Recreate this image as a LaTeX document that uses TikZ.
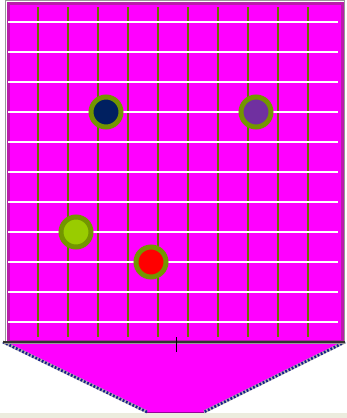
\documentclass[tikz,border=0pt]{standalone}
\definecolor{mag}{RGB}{255,0,255}
\definecolor{rimc}{RGB}{185,30,170}
\definecolor{vline}{RGB}{105,115,0}
\definecolor{ring}{RGB}{115,150,0}
\definecolor{navyc}{RGB}{0,32,96}
\definecolor{purp}{RGB}{112,48,160}
\definecolor{lime}{RGB}{153,204,0}
\definecolor{band}{RGB}{236,236,222}
\definecolor{dotc}{RGB}{20,30,140}
\begin{document}
\begin{tikzpicture}[x=1pt,y=-1pt,
  dotnode/.style={circle,draw=ring,line width=5pt,minimum size=30pt,inner sep=0pt},
  vgrid/.style={draw=vline,line width=1.6pt},
  hgrid/.style={draw=white,line width=1.6pt}]
\useasboundingbox (0,0) rectangle (347,418);
\fill[white] (0,0) rectangle (347,418);
\fill[band] (0,413) rectangle (347,418);
% funnel
\coordinate (f1) at (3,342);
\coordinate (f2) at (345,342);
\coordinate (f3) at (204,412);
\coordinate (f4) at (147,412);
\fill[mag] (f1) -- (f2) -- (f3) -- (f4) -- cycle;
\draw[gray!60,line width=3pt] (f2) -- (f3) (f4) -- (f1);
\draw[dotc,line width=2.6pt,dash pattern=on 1.8pt off 1.8pt] (f2) -- (f3) (f4) -- (f1);
\draw[mag!60!black,line width=1pt] (f3) -- (f4);
% box
\fill[mag] (7,2) rectangle (343,342);
\draw[gray!80,line width=1.2pt] (5.5,0.5) rectangle (344.5,343.5);
\draw[rimc,line width=3pt] (8,3) rectangle (342,341);
\foreach \i in {0,...,9} {
  \draw[vgrid] ({38+30*\i},7) -- ({38+30*\i},337);
}
\foreach \j in {0,...,10} {
  \draw[hgrid] (8,{22+30*\j}) -- (338,{22+30*\j});
}
\draw[black!80,line width=1.2pt] (3,342) -- (345,342);
\coordinate (t1) at (176,337);
\coordinate (t2) at (176,352);
\draw[black,line width=1pt] (t1) -- (t2);
% dots
\node[dotnode,fill=navyc] (d1) at (106,112) {};
\node[dotnode,fill=purp] (d2) at (256,112) {};
\node[dotnode,fill=lime] (d3) at (76,232) {};
\node[dotnode,fill=red] (d4) at (151,262) {};
\end{tikzpicture}
\end{document}
